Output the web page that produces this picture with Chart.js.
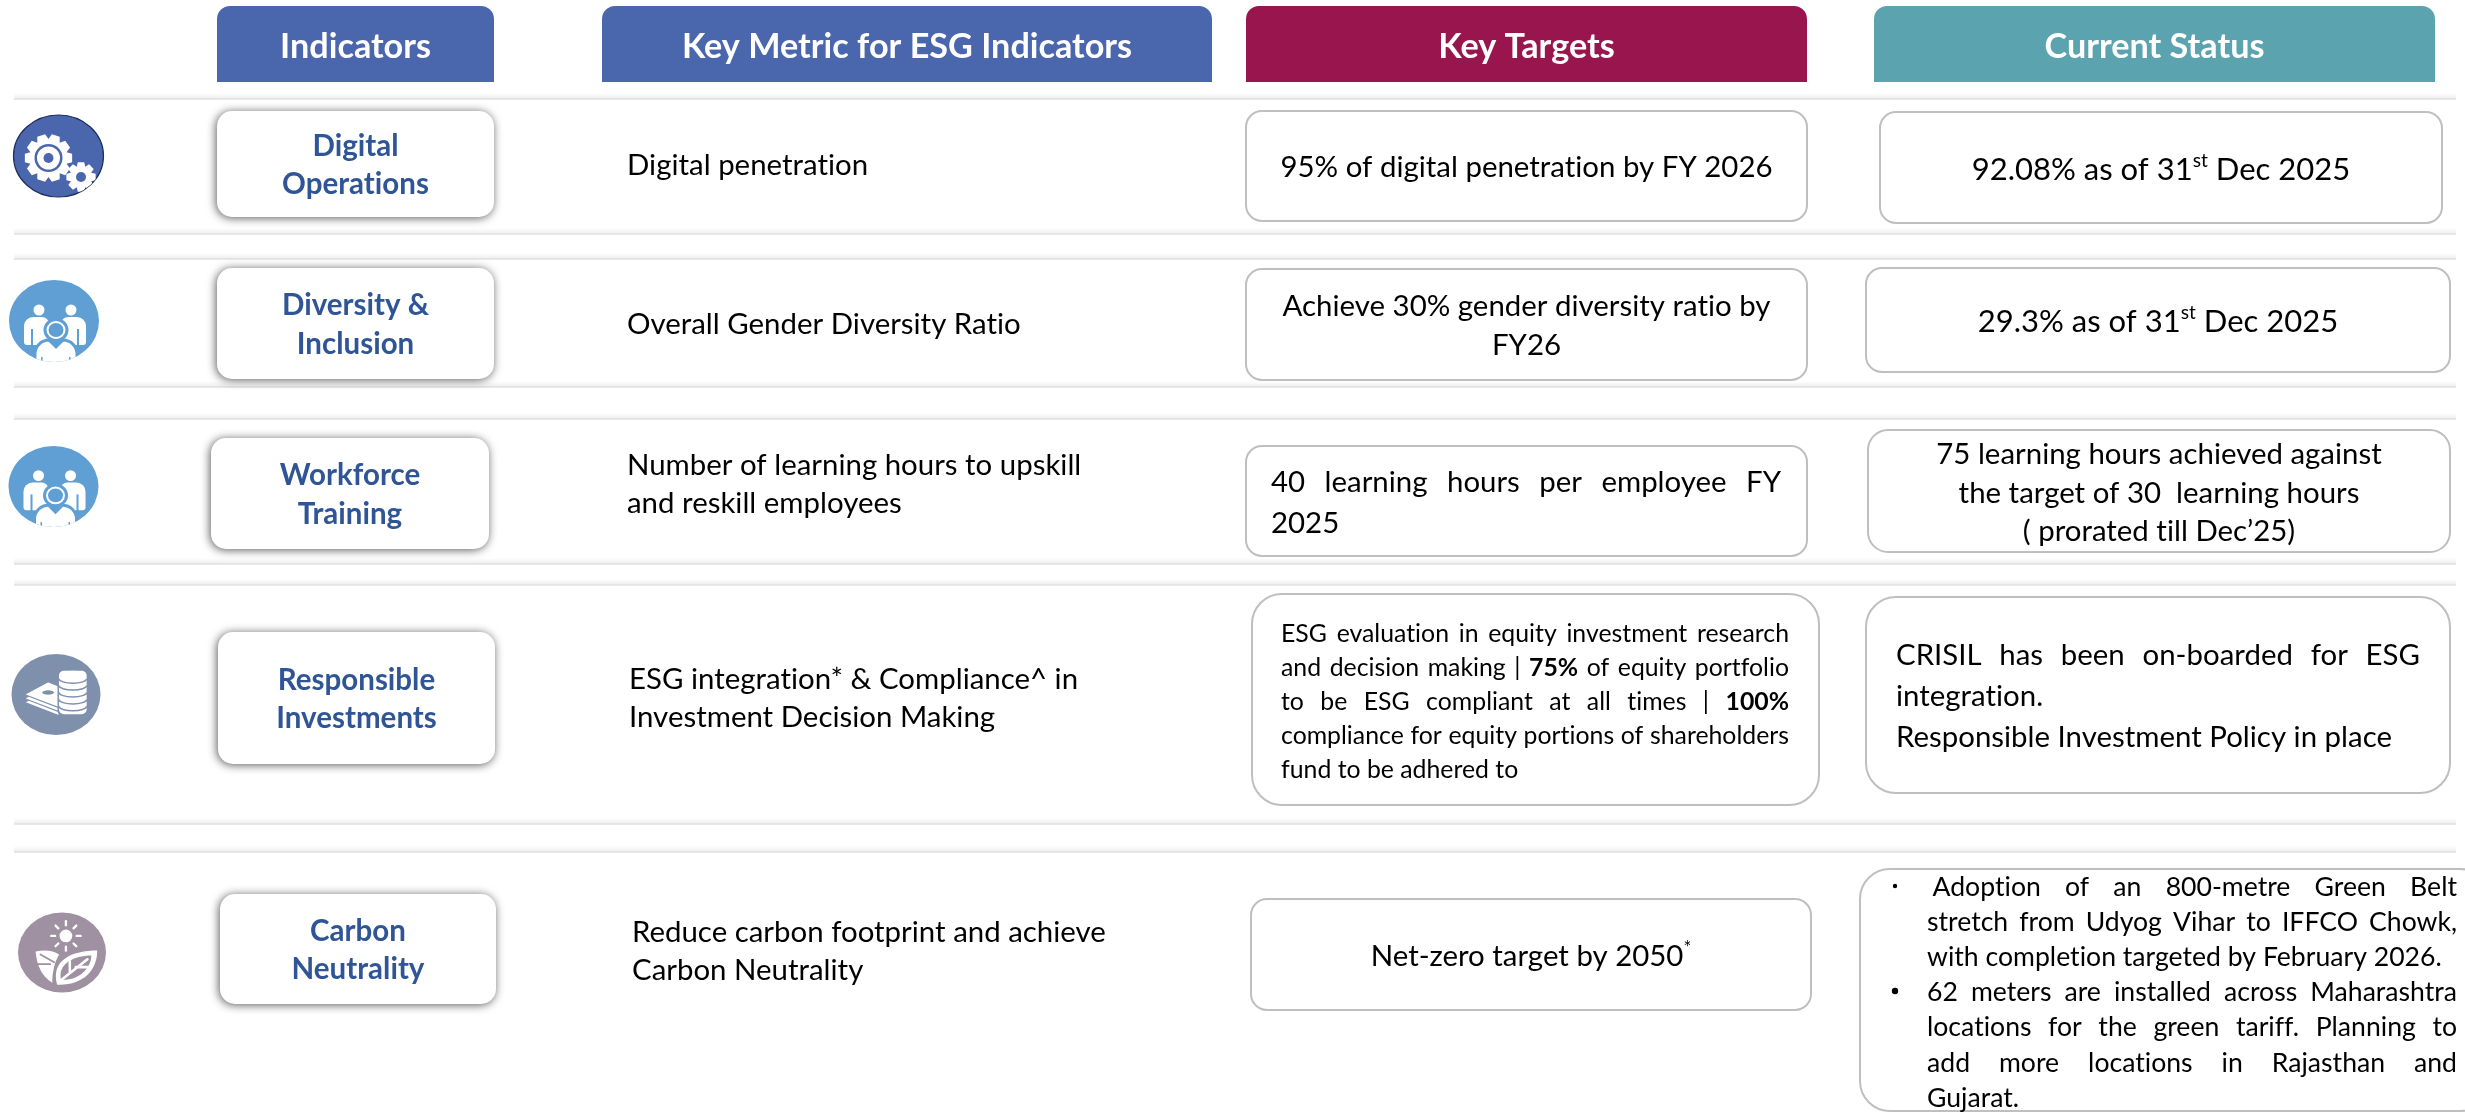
<!DOCTYPE html>
<html>
<head>
<meta charset="utf-8">
<title>ESG Indicators</title>
<script src="https://cdn.jsdelivr.net/npm/chart.js@4"></script>
<style>
    html, body { margin: 0; padding: 0; background: #fff; overflow: hidden; }
    canvas { display: block; }
</style>
</head>
<body>
<canvas id="esgChart" width="2465" height="1114"></canvas>
<script>
// Table content
const columnHeaders = ['Indicators', 'Key Metric for ESG Indicators', 'Key Targets', 'Current Status'];
const indicators = [
    ['Digital', 'Operations'],
    ['Diversity &', 'Inclusion'],
    ['Workforce', 'Training'],
    ['Responsible', 'Investments'],
    ['Carbon', 'Neutrality']
];
const metrics = [
    ['Digital penetration'],
    ['Overall Gender Diversity Ratio'],
    ['Number of learning hours to upskill', 'and reskill employees'],
    ['ESG integration* & Compliance^ in', 'Investment Decision Making'],
    ['Reduce carbon footprint and achieve', 'Carbon Neutrality']
];
const targets = [
    ['95% of digital penetration by FY 2026'],
    ['Achieve 30% gender diversity ratio by', 'FY26'],
    ['40 learning hours per employee FY', '2025'],
    ['ESG evaluation in equity investment research', 'and decision making | **75%** of equity portfolio', 'to be ESG compliant at all times | **100%**', 'compliance for equity portions of shareholders', 'fund to be adhered to'],
    ['Net-zero target by 2050^{*}']
];
const statuses = [
    ['92.08% as of 31^{st} Dec 2025'],
    ['29.3% as of 31^{st} Dec 2025'],
    ['75 learning hours achieved against', 'the target of 30  learning hours', '( prorated till Dec\u201925)'],
    ['CRISIL has been on-boarded for ESG', 'integration.', 'Responsible Investment Policy in place'],
    ['Adoption of an 800-metre Green Belt', 'stretch from Udyog Vihar to IFFCO Chowk,', 'with completion targeted by February 2026.', '62 meters are installed across Maharashtra', 'locations for the green tariff. Planning to', 'add more locations in Rajasthan and', 'Gujarat.']
];

// Layout, in page units on the two hidden axes
const separatorRows = [99, 234, 259, 387, 419, 564, 585, 824, 852];
const headerBoxes = [[217, 494], [602, 1212], [1246, 1807], [1874, 2435]];
const headerColors = ['#4a66ad', '#4a66ad', '#98154d', '#5ca3b0'];
const indicatorBoxes = [[217, 111, 494, 217], [217, 268, 494, 379], [211, 438, 489, 549], [218, 632, 495, 764], [220, 894, 496, 1004]];
const targetBoxes = [[1246, 111, 1807, 221, 16], [1246, 269, 1807, 380, 16], [1246, 446, 1807, 556, 16], [1252, 594, 1819, 805, 30], [1251, 899, 1811, 1010, 16]];
const statusBoxes = [[1880, 112, 2442, 223, 16], [1866, 268, 2450, 372, 16], [1868, 430, 2450, 552, 20], [1866, 597, 2450, 793, 30], [1860, 869, 2490, 1111, 30]];

const metricBlocks = [
    { x0: 627, y: 166 }, { x0: 627, y: 325 }, { x0: 627, y: 466 }, { x0: 629, y: 680 }, { x0: 632, y: 933 }
];
const targetBlocks = [
    { x0: 1246, x1: 1807, y: 168, align: 'center' },
    { x0: 1246, x1: 1807, y: 307, lh: 39, align: 'center' },
    { x0: 1271, x1: 1781, y: 483, lh: 41, align: 'justify', justify: [0] },
    { x0: 1281, x1: 1789, y: 634, lh: 34, size: 24.8, align: 'justify', justify: [0, 1, 2, 3] },
    { x0: 1251, x1: 1811, y: 957, align: 'center' }
];
const statusBlocks = [
    { x0: 1880, x1: 2442, y: 170, size: 31, align: 'center' },
    { x0: 1866, x1: 2450, y: 322, size: 31, align: 'center' },
    { x0: 1868, x1: 2450, y: 455, lh: 38.5, align: 'center' },
    { x0: 1896, x1: 2420, y: 656, lh: 41, align: 'justify', justify: [0] },
    { x0: 1927, x1: 2457, y: 887, lh: 35.2, size: 26.6, align: 'justify', justify: [0, 1, 3, 4, 5], indent: [5.5, 0, 0, 0, 0, 0, 0] }
];
const bulletRows = [886, 991];
const bulletSizes = [2.2, 3.2];
const iconSpots = [[58.5, 156, 45, 41], [54, 321, 45, 41], [53.5, 486.5, 45, 40.5], [56, 694.5, 44.5, 40.5], [62, 952.5, 44, 40]];
const iconColors = ['#4a66ad', '#5f9fd4', '#5f9fd4', '#7f90ad', '#9f90a2'];
const iconTypes = ['gears', 'people', 'people', 'coins', 'leaf'];

const FONT = 'Lato, Carlito, Calibri, sans-serif';

function parseRuns(line) {
    return line.split(/(\*\*.*?\*\*|\^\{.*?\})/).filter(s => s).map(s => {
        if (s.startsWith('**')) return { text: s.slice(2, -2), bold: true };
        if (s.startsWith('^{')) return { text: s.slice(2, -1), sup: true };
        return { text: s };
    });
}

function fontFor(run, size, bold) {
    const px = run.sup ? size * 0.62 : size;
    return `${(bold || run.bold) ? 'bold ' : ''}${px}px ${FONT}`;
}

function lineWidth(ctx, runs, size, bold) {
    let w = 0;
    runs.forEach(run => {
        ctx.font = fontFor(run, size, bold);
        w += ctx.measureText(run.text).width;
    });
    return w;
}

// Draws a single line, word by word when it has to be justified
function drawLine(ctx, line, x0, x1, y, size, align, bold, stretch) {
    const runs = parseRuns(line);
    const natural = lineWidth(ctx, runs, size, bold);
    let x = x0;
    if (align === 'center') x = (x0 + x1) / 2 - natural / 2;
    let extra = 0;
    if (stretch) {
        const gaps = (line.match(/ /g) || []).length;
        extra = gaps ? (x1 - x0 - natural) / gaps : 0;
    }
    ctx.textAlign = 'left';
    ctx.textBaseline = 'middle';
    ctx.letterSpacing = '0.01px'; // keeps Lato from joining ti/tt
    runs.forEach(run => {
        ctx.font = fontFor(run, size, bold);
        const dy = run.sup ? -size * 0.3 : 0;
        run.text.split(/( )/).forEach(piece => {
            if (!piece) return;
            if (piece === ' ') {
                x += ctx.measureText(' ').width + extra;
            } else {
                ctx.fillText(piece, x, y + dy);
                x += ctx.measureText(piece).width;
            }
        });
    });
}

function drawBlock(ctx, sx, sy, lines, block) {
    const size = block.size || 29.4;
    const lh = block.lh || 38;
    ctx.fillStyle = block.color || '#000';
    lines.forEach((line, i) => {
        const indent = block.indent ? block.indent[i] : 0;
        const stretch = block.justify && block.justify.includes(i);
        drawLine(ctx, line, sx(block.x0 + indent), block.x1 ? sx(block.x1) : 0, sy(block.y + lh * i), size, block.align || 'left', block.bold, stretch);
    });
}

function roundedBox(ctx, sx, sy, box, radius) {
    const x = sx(box[0]), y = sy(box[1]);
    ctx.beginPath();
    ctx.roundRect(x, y, sx(box[2]) - x, sy(box[3]) - y, radius);
}

function gear(ctx, x, y, outer, root, teeth) {
    ctx.beginPath();
    for (let i = 0; i < teeth; i++) {
        const a = (i / teeth) * Math.PI * 2;
        const w = Math.PI / teeth;
        [[root, -w], [outer, -w * 0.55], [outer, w * 0.55], [root, w]].forEach(p => {
            ctx.lineTo(x + Math.cos(a + p[1]) * p[0], y + Math.sin(a + p[1]) * p[0]);
        });
    }
    ctx.closePath();
    ctx.fill();
}

function disc(ctx, x, y, r, ry) {
    ctx.beginPath();
    ctx.ellipse(x, y, r, ry || r, 0, 0, Math.PI * 2);
    ctx.fill();
}

function drawGears(ctx, color) {
    ctx.fillStyle = '#fff';
    gear(ctx, -10, 2, 24, 19, 10);
    ctx.fillStyle = color; disc(ctx, -10, 2, 14);
    ctx.fillStyle = '#fff'; disc(ctx, -10, 2, 11.5);
    ctx.fillStyle = color; disc(ctx, -10, 2, 5);
    ctx.fillStyle = '#fff';
    gear(ctx, 22.5, 21, 15, 11, 8);
    ctx.fillStyle = color; disc(ctx, 22.5, 21, 5);
}

function drawPeople(ctx, color) {
    ctx.fillStyle = '#fff';
    disc(ctx, -15, -11, 5.5);
    disc(ctx, 17, -11, 5.5);
    ctx.beginPath(); ctx.roundRect(-30, -4, 25, 28, [9, 7, 2, 3]); ctx.fill();
    ctx.beginPath(); ctx.roundRect(7, -4, 25, 28, [7, 9, 3, 2]); ctx.fill();
    ctx.fillStyle = color;
    ctx.fillRect(-23, 8, 2, 18);
    ctx.fillRect(23, 8, 2, 18);
    // front figure with a blue halo
    ctx.strokeStyle = color;
    ctx.lineWidth = 3;
    ctx.fillStyle = '#fff';
    ctx.beginPath(); ctx.roundRect(-19, 19, 42, 30, [14, 14, 0, 0]); ctx.fill(); ctx.stroke();
    ctx.beginPath(); ctx.ellipse(2, 9, 11, 10.5, 0, 0, Math.PI * 2); ctx.fill(); ctx.stroke();
    ctx.fillStyle = color;
    disc(ctx, 2, 9, 7.5, 7);
    ctx.beginPath(); ctx.moveTo(-6, 20); ctx.lineTo(2, 28); ctx.lineTo(10, 20); ctx.closePath(); ctx.fill();
    ctx.fillRect(-13, 36, 1.5, 8);
    ctx.fillRect(15, 36, 1.5, 8);
}

function drawCoins(ctx, color) {
    // banknotes
    [8, 4, 0].forEach(dy => {
        ctx.fillStyle = '#fff';
        ctx.strokeStyle = color;
        ctx.lineWidth = 1.2;
        ctx.beginPath();
        ctx.moveTo(-32, 0 + dy);
        ctx.lineTo(-8, -13 + dy);
        ctx.lineTo(14, -4 + dy);
        ctx.lineTo(14, 8 + dy);
        ctx.lineTo(2, 13 + dy);
        ctx.closePath();
        ctx.fill();
        ctx.stroke();
    });
    ctx.fillStyle = color;
    disc(ctx, -8, -2, 6, 2.2);
    // coin stack
    ctx.fillStyle = color;
    ctx.beginPath(); ctx.roundRect(1.5, -25, 31, 47, 6); ctx.fill();
    ctx.fillStyle = '#fff';
    ctx.beginPath(); ctx.roundRect(3, -24, 28, 44, 5); ctx.fill();
    disc(ctx, 17, -19, 13.5, 5);
    ctx.strokeStyle = color;
    ctx.lineWidth = 1.5;
    [-16, -9, -2, 5, 12].forEach(dy => {
        ctx.beginPath();
        ctx.ellipse(17, dy, 14, 4.5, 0, 0, Math.PI);
        ctx.stroke();
    });
}

function drawLeaf(ctx, color) {
    ctx.fillStyle = '#fff';
    ctx.strokeStyle = '#fff';
    disc(ctx, 4, -17, 6.5);
    ctx.lineWidth = 2.4;
    ctx.lineCap = 'round';
    for (let i = 0; i < 8; i++) {
        const a = (i / 8) * Math.PI * 2;
        ctx.beginPath();
        ctx.moveTo(4 + Math.cos(a) * 11, -17 + Math.sin(a) * 11);
        ctx.lineTo(4 + Math.cos(a) * 15, -17 + Math.sin(a) * 15);
        ctx.stroke();
    }
    // left leaf
    ctx.beginPath();
    ctx.moveTo(-27, -1);
    ctx.quadraticCurveTo(-12, -4, -3, 2);
    ctx.quadraticCurveTo(-10, 14, -10, 31);
    ctx.quadraticCurveTo(-25, 22, -27, -1);
    ctx.fill();
    ctx.strokeStyle = color;
    ctx.lineWidth = 1.8;
    ctx.beginPath(); ctx.moveTo(-27, 12); ctx.lineTo(-12, 12); ctx.moveTo(-22, 2); ctx.lineTo(-8, 10); ctx.stroke();
    // right leaf
    ctx.fillStyle = '#fff';
    ctx.beginPath();
    ctx.moveTo(-5, 33);
    ctx.bezierCurveTo(-12, 8, 10, -2, 36, -2);
    ctx.bezierCurveTo(36, 18, 22, 34, -5, 33);
    ctx.fill();
    ctx.fillStyle = color;
    ctx.beginPath();
    ctx.moveTo(-1, 28);
    ctx.bezierCurveTo(-5, 12, 12, 3, 30, 3);
    ctx.bezierCurveTo(30, 15, 18, 29, -1, 28);
    ctx.fill();
    ctx.strokeStyle = '#fff';
    ctx.lineWidth = 2.6;
    ctx.beginPath(); ctx.moveTo(-3, 30); ctx.lineTo(26, 7); ctx.moveTo(8, 20); ctx.lineTo(8, 6); ctx.moveTo(14, 15); ctx.lineTo(28, 15); ctx.stroke();
}

function drawIcon(ctx, sx, sy, spot, color, type) {
    ctx.save();
    ctx.translate(sx(spot[0]), sy(spot[1]));
    ctx.beginPath();
    ctx.ellipse(0, 0, spot[2], spot[3], 0, 0, Math.PI * 2);
    ctx.fillStyle = color;
    ctx.fill();
    if (type === 'gears') {
        ctx.strokeStyle = '#1f2d5c';
        ctx.lineWidth = 1.2;
        ctx.stroke();
    }
    ctx.clip();
    ctx.scale(spot[2] / 45, spot[3] / 41);
    if (type === 'gears') drawGears(ctx, color);
    if (type === 'people') drawPeople(ctx, color);
    if (type === 'coins') drawCoins(ctx, color);
    if (type === 'leaf') drawLeaf(ctx, color);
    ctx.restore();
}

// Everything that is not a line is placed through the chart's own scales
const tablePlugin = {
    id: 'esgTable',
    beforeDatasetsDraw(chart) {
        const ctx = chart.ctx;
        const sx = v => chart.scales.x.getPixelForValue(v);
        const sy = v => chart.scales.y.getPixelForValue(v);
        ctx.save();
        ctx.fillStyle = '#fff';
        ctx.fillRect(0, 0, chart.width, chart.height);
        // soft fade above each separator
        separatorRows.forEach(row => {
            const g = ctx.createLinearGradient(0, sy(row) - 6, 0, sy(row));
            g.addColorStop(0, 'rgba(215,215,215,0)');
            g.addColorStop(1, 'rgba(215,215,215,0.45)');
            ctx.fillStyle = g;
            ctx.fillRect(sx(14), sy(row) - 6, sx(2456) - sx(14), 6);
        });
        ctx.restore();
    },
    afterDatasetsDraw(chart) {
        const ctx = chart.ctx;
        const sx = v => chart.scales.x.getPixelForValue(v);
        const sy = v => chart.scales.y.getPixelForValue(v);
        ctx.save();

        // header cells
        headerBoxes.forEach((box, i) => {
            roundedBox(ctx, sx, sy, [box[0], 6, box[1], 82], [13, 13, 0, 0]);
            ctx.fillStyle = headerColors[i];
            ctx.fill();
            ctx.fillStyle = '#fff';
            drawLine(ctx, columnHeaders[i], sx(box[0]), sx(box[1]), sy(47), 34.2, 'center', true, false);
        });

        // indicator pills
        indicatorBoxes.forEach((box, i) => {
            ctx.save();
            ctx.shadowColor = 'rgba(0,0,0,0.65)';
            ctx.shadowBlur = 10;
            ctx.shadowOffsetX = -1;
            ctx.shadowOffsetY = 1;
            roundedBox(ctx, sx, sy, box, 15);
            ctx.fillStyle = '#fff';
            ctx.fill();
            ctx.restore();
            const y = (box[1] + box[3]) / 2 - 18;
            drawBlock(ctx, sx, sy, indicators[i], { x0: box[0], x1: box[2], y: y, lh: 38.5, size: 29.5, align: 'center', bold: true, color: '#2f5597' });
        });

        // bordered cells
        [targetBoxes, statusBoxes].forEach(boxes => {
            boxes.forEach(box => {
                roundedBox(ctx, sx, sy, box, box[4]);
                ctx.fillStyle = '#fff';
                ctx.fill();
                ctx.strokeStyle = '#bfbfbf';
                ctx.lineWidth = 2;
                ctx.stroke();
            });
        });

        metrics.forEach((lines, i) => drawBlock(ctx, sx, sy, lines, metricBlocks[i]));
        targets.forEach((lines, i) => drawBlock(ctx, sx, sy, lines, targetBlocks[i]));
        statuses.forEach((lines, i) => drawBlock(ctx, sx, sy, lines, statusBlocks[i]));

        ctx.fillStyle = '#000';
        bulletRows.forEach((row, i) => {
            ctx.beginPath();
            ctx.arc(sx(1895), sy(row), bulletSizes[i], 0, Math.PI * 2);
            ctx.fill();
        });

        iconSpots.forEach((spot, i) => drawIcon(ctx, sx, sy, spot, iconColors[i], iconTypes[i]));
        ctx.restore();
    }
};

document.addEventListener('DOMContentLoaded', function() {
    const esgCtx = document.getElementById('esgChart').getContext('2d');
    new Chart(esgCtx, {
        type: 'scatter',
        data: {
            datasets: separatorRows.map(row => ({
                data: [{ x: 14, y: row }, { x: 2456, y: row }],
                showLine: true,
                borderColor: '#e0e0e0',
                borderWidth: 1.5,
                pointRadius: 0
            }))
        },
        options: {
            responsive: false,
            animation: false,
            layout: { padding: 0 },
            plugins: { legend: { display: false }, tooltip: { enabled: false } },
            scales: {
                x: { type: 'linear', display: false, min: 0, max: 2465 },
                y: { type: 'linear', display: false, min: 0, max: 1114, reverse: true }
            }
        },
        plugins: [tablePlugin]
    });
});
</script>
</body>
</html>
